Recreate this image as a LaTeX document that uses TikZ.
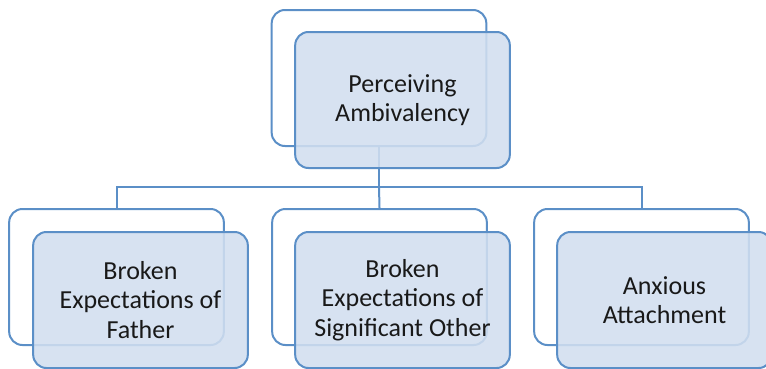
\documentclass[tikz,border=0pt]{standalone}
\usepackage{fontspec}
\setmainfont{Carlito}
\usetikzlibrary{positioning}
\definecolor{boxline}{RGB}{91,143,199}
\definecolor{boxfill}{RGB}{209,222,239}

\begin{document}
\begin{tikzpicture}[x=0.75pt,y=-0.75pt,
  backbox/.style={draw=boxline, line width=1.5pt, rounded corners=10pt,
    minimum width=161pt, minimum height=102pt, inner sep=0pt},
  frontbox/.style={backbox, fill=boxfill, fill opacity=0.88, text opacity=1,
    align=center, text=black!90, font=\fontsize{19.5}{22}\selectfont},
  link/.style={draw=boxline, line width=1.5pt}]
\useasboundingbox (0,0) rectangle (766,368);
% back frames
\node[backbox] (backTop) at (379,78) {};
\node[backbox] (backA) at (116.5,277) {};
\node[backbox] (backB) at (379.5,277) {};
\node[backbox] (backC) at (641.5,277) {};
% connectors
\coordinate (bus) at (379,187);
\draw[link] (backTop.south) -- (bus);
\draw[link] (backA.north) |- (bus) -| (backC.north);
\draw[link] (bus) -- (backB.north);
% front boxes with text
\node[frontbox] (frontTop) at (402.5,100) {Perceiving\\Ambivalency};
\node[frontbox] (frontA) at (140.5,300) {Broken\\Expectations of\\Father};
\node[frontbox] (frontB) at (402.5,300) {Broken\\Expectations of\\Significant Other};
\node[frontbox] (frontC) at (664.5,300) {Anxious\\Attachment};
\end{tikzpicture}
\end{document}
